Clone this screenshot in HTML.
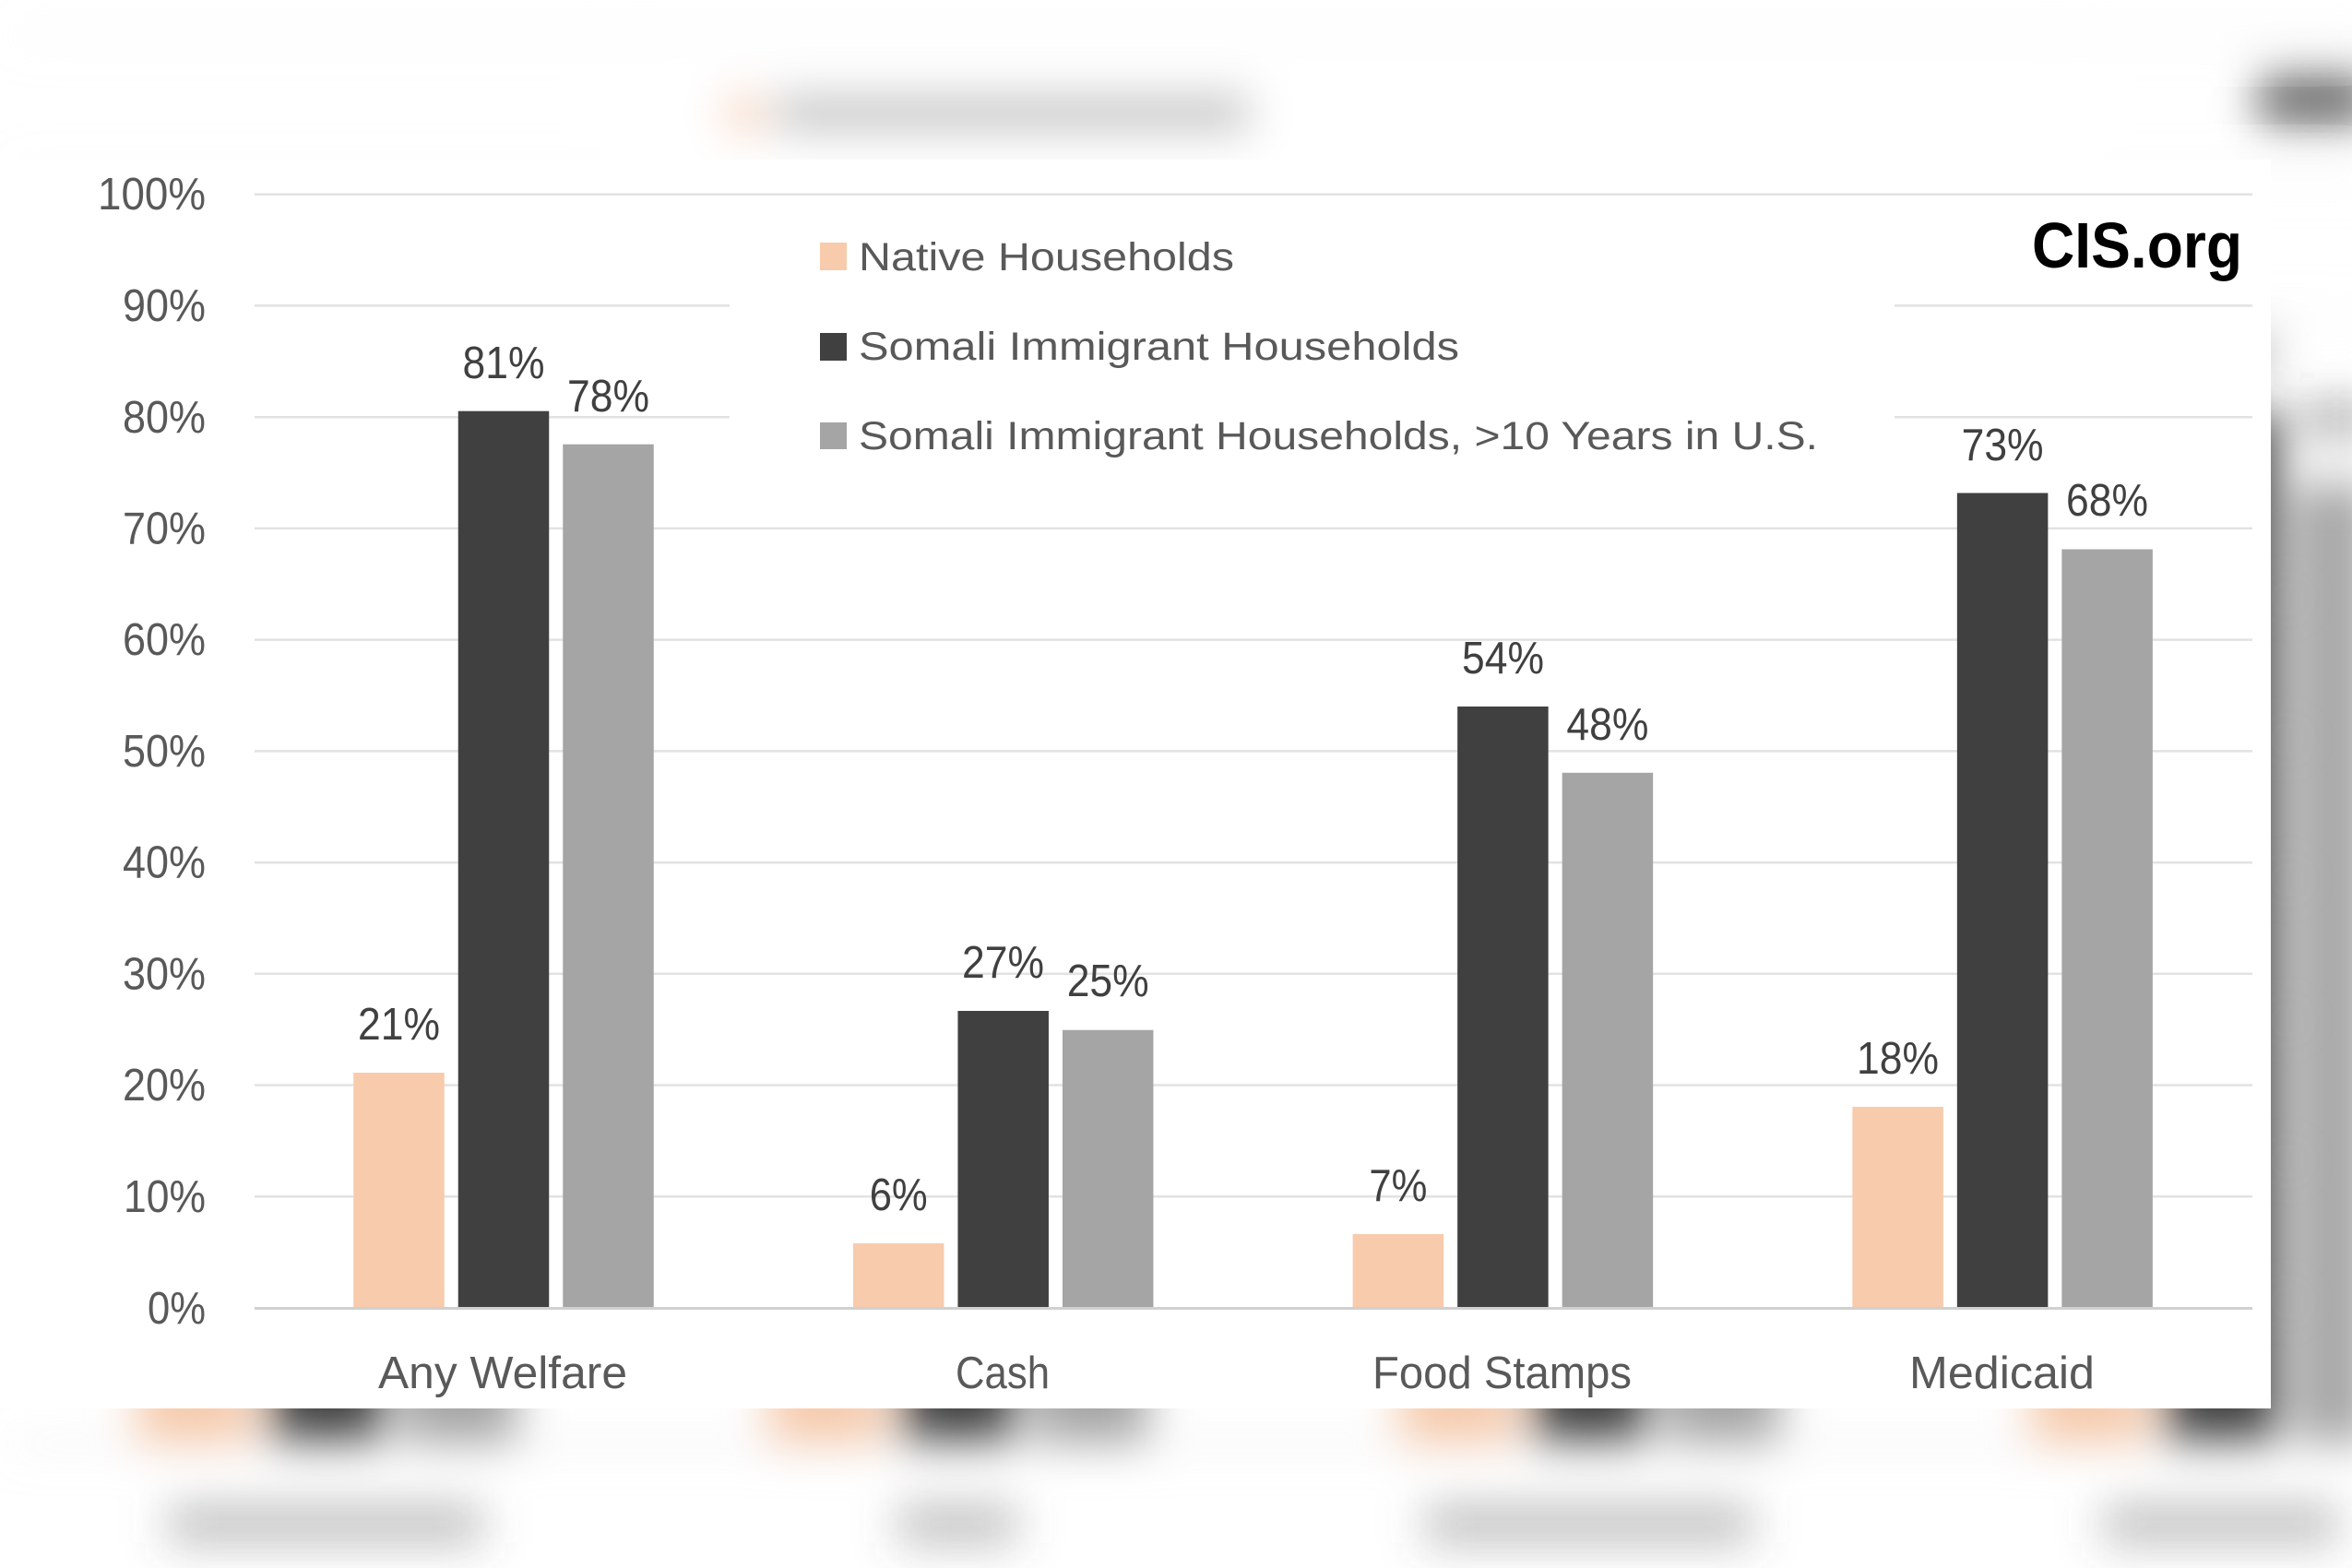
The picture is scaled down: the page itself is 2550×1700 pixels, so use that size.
<!DOCTYPE html>
<html>
<head>
<meta charset="utf-8">
<style>
  html,body{margin:0;padding:0;background:#fff;width:2550px;height:1700px;overflow:hidden;}
  svg{display:block;position:absolute;left:0;top:0;}
  .t{font-family:"Liberation Sans",Arial,sans-serif;}
</style>
</head>
<body>
<svg width="2550" height="1700" viewBox="0 0 2550 1700" xmlns="http://www.w3.org/2000/svg">
  <defs>
    <filter id="bl" x="-5%" y="-5%" width="110%" height="110%">
      <feGaussianBlur stdDeviation="19"/>
    </filter>
    <clipPath id="cp"><rect x="0" y="0" width="2550" height="1700"/></clipPath>
  </defs>
  <rect x="0" y="0" width="2550" height="1700" fill="#ffffff"/>

  <!-- Blurred, enlarged background copy -->
  <g clip-path="url(#cp)">
  <g transform="translate(-336,-228) scale(1.264)" filter="url(#bl)">
    <g stroke="#e2e2e2" stroke-width="2.5">
      <line x1="276" y1="210.7" x2="2300" y2="210.7"/>
      <line x1="276" y1="331.4" x2="2300" y2="331.4"/>
      <line x1="276" y1="452.2" x2="2300" y2="452.2"/>
      <line x1="276" y1="572.9" x2="2300" y2="572.9"/>
      <line x1="276" y1="693.6" x2="2300" y2="693.6"/>
      <line x1="276" y1="814.4" x2="2300" y2="814.4"/>
      <line x1="276" y1="935.1" x2="2300" y2="935.1"/>
      <line x1="276" y1="1055.8" x2="2300" y2="1055.8"/>
      <line x1="276" y1="1176.5" x2="2300" y2="1176.5"/>
      <line x1="276" y1="1297.3" x2="2300" y2="1297.3"/>
    </g>
    <rect x="791" y="230" width="1263" height="290" fill="#ffffff"/>
    <line x1="276" y1="1418.5" x2="2300" y2="1418.5" stroke="#d0d0d0" stroke-width="3"/>
    <!-- bars -->
    <rect x="383.25" y="1163" width="98.5" height="254" fill="#F7CBAC"/>
    <rect x="496.75" y="445.7" width="98.5" height="971.3" fill="#404040"/>
    <rect x="610.25" y="481.7" width="98.5" height="935.3" fill="#A5A5A5"/>
    <rect x="924.95" y="1348" width="98.5" height="69" fill="#F7CBAC"/>
    <rect x="1038.45" y="1096" width="98.5" height="321" fill="#404040"/>
    <rect x="1151.95" y="1116.7" width="98.5" height="300.3" fill="#A5A5A5"/>
    <rect x="1466.65" y="1338" width="98.5" height="79" fill="#F7CBAC"/>
    <rect x="1580.15" y="766" width="98.5" height="651" fill="#404040"/>
    <rect x="1693.65" y="837.8" width="98.5" height="579.2" fill="#A5A5A5"/>
    <rect x="2008.35" y="1200" width="98.5" height="217" fill="#F7CBAC"/>
    <rect x="2121.85" y="534.5" width="98.5" height="882.5" fill="#404040"/>
    <rect x="2235.35" y="595.5" width="64" height="821.5" fill="#A5A5A5"/>
    <!-- text blobs -->
    <g fill="#404040" opacity="0.4">
      <rect x="388" y="1092" width="89" height="35"/>
      <rect x="501.5" y="375" width="89" height="35"/>
      <rect x="615" y="411" width="89" height="35"/>
      <rect x="942.7" y="1277" width="63" height="35"/>
      <rect x="1043" y="1025" width="89" height="35"/>
      <rect x="1156.7" y="1045" width="89" height="35"/>
      <rect x="1484.4" y="1267" width="63" height="35"/>
      <rect x="1585" y="695" width="89" height="35"/>
      <rect x="1698.4" y="767" width="89" height="35"/>
      <rect x="2013" y="1129" width="89" height="35"/>
      <rect x="2126.6" y="464" width="89" height="35"/>
      <rect x="2240" y="524" width="60" height="35"/>
    </g>
    <g fill="#595959" opacity="0.38">
      <rect x="410" y="1470" width="270" height="35"/>
      <rect x="1036" y="1470" width="102" height="35"/>
      <rect x="1488" y="1470" width="281" height="35"/>
      <rect x="2070" y="1470" width="201" height="35"/>
      <rect x="931" y="262" width="407" height="31"/>
      <rect x="931" y="359" width="651" height="31"/>
      <rect x="931" y="456" width="1040" height="31"/>
    </g>
    <rect x="889" y="263" width="29" height="30" fill="#F7CBAC"/>
    <rect x="889" y="361" width="29" height="30" fill="#404040"/>
    <rect x="889" y="458" width="29" height="29" fill="#A5A5A5"/>
    <rect x="2203" y="240" width="97" height="50" fill="#000" opacity="0.55"/>
  </g>
  </g>

  <!-- Sharp foreground panel -->
  <rect x="0" y="173" width="2462" height="1354" fill="#ffffff"/>

  <!-- gridlines -->
  <g stroke="#e2e2e2" stroke-width="2.5">
    <line x1="276" y1="210.7" x2="2442" y2="210.7"/>
    <line x1="276" y1="331.4" x2="2442" y2="331.4"/>
    <line x1="276" y1="452.2" x2="2442" y2="452.2"/>
    <line x1="276" y1="572.9" x2="2442" y2="572.9"/>
    <line x1="276" y1="693.6" x2="2442" y2="693.6"/>
    <line x1="276" y1="814.4" x2="2442" y2="814.4"/>
    <line x1="276" y1="935.1" x2="2442" y2="935.1"/>
    <line x1="276" y1="1055.8" x2="2442" y2="1055.8"/>
    <line x1="276" y1="1176.5" x2="2442" y2="1176.5"/>
    <line x1="276" y1="1297.3" x2="2442" y2="1297.3"/>
  </g>
  <!-- legend background box -->
  <rect x="791" y="230" width="1263" height="290" fill="#ffffff"/>
  <!-- axis line -->
  <line x1="276" y1="1418.5" x2="2442" y2="1418.5" stroke="#d0d0d0" stroke-width="3"/>

  <!-- bars -->
  <rect x="383.25" y="1163" width="98.5" height="254" fill="#F7CBAC"/>
  <rect x="496.75" y="445.7" width="98.5" height="971.3" fill="#404040"/>
  <rect x="610.25" y="481.7" width="98.5" height="935.3" fill="#A5A5A5"/>
  <rect x="924.95" y="1348" width="98.5" height="69" fill="#F7CBAC"/>
  <rect x="1038.45" y="1096" width="98.5" height="321" fill="#404040"/>
  <rect x="1151.95" y="1116.7" width="98.5" height="300.3" fill="#A5A5A5"/>
  <rect x="1466.65" y="1338" width="98.5" height="79" fill="#F7CBAC"/>
  <rect x="1580.15" y="766" width="98.5" height="651" fill="#404040"/>
  <rect x="1693.65" y="837.8" width="98.5" height="579.2" fill="#A5A5A5"/>
  <rect x="2008.35" y="1200" width="98.5" height="217" fill="#F7CBAC"/>
  <rect x="2121.85" y="534.5" width="98.5" height="882.5" fill="#404040"/>
  <rect x="2235.35" y="595.5" width="98.5" height="821.5" fill="#A5A5A5"/>

  <!-- y tick labels -->
  <g class="t" font-size="49" fill="#595959">
    <text x="106" y="227" textLength="117" lengthAdjust="spacingAndGlyphs">100%</text>
    <text x="133" y="348" textLength="90" lengthAdjust="spacingAndGlyphs">90%</text>
    <text x="133" y="469" textLength="90" lengthAdjust="spacingAndGlyphs">80%</text>
    <text x="133" y="589.5" textLength="90" lengthAdjust="spacingAndGlyphs">70%</text>
    <text x="133" y="710" textLength="90" lengthAdjust="spacingAndGlyphs">60%</text>
    <text x="133" y="831" textLength="90" lengthAdjust="spacingAndGlyphs">50%</text>
    <text x="133" y="951.5" textLength="90" lengthAdjust="spacingAndGlyphs">40%</text>
    <text x="133" y="1072.5" textLength="90" lengthAdjust="spacingAndGlyphs">30%</text>
    <text x="133" y="1193" textLength="90" lengthAdjust="spacingAndGlyphs">20%</text>
    <text x="134" y="1314" textLength="89" lengthAdjust="spacingAndGlyphs">10%</text>
    <text x="160" y="1435" textLength="63" lengthAdjust="spacingAndGlyphs">0%</text>
  </g>

  <!-- data labels -->
  <g class="t" font-size="49" fill="#404040">
    <text x="388" y="1127" textLength="89" lengthAdjust="spacingAndGlyphs">21%</text>
    <text x="501.5" y="410" textLength="89" lengthAdjust="spacingAndGlyphs">81%</text>
    <text x="615" y="446" textLength="89" lengthAdjust="spacingAndGlyphs">78%</text>
    <text x="942.7" y="1312" textLength="63" lengthAdjust="spacingAndGlyphs">6%</text>
    <text x="1043" y="1060" textLength="89" lengthAdjust="spacingAndGlyphs">27%</text>
    <text x="1156.7" y="1080" textLength="89" lengthAdjust="spacingAndGlyphs">25%</text>
    <text x="1484.4" y="1302" textLength="63" lengthAdjust="spacingAndGlyphs">7%</text>
    <text x="1585" y="730" textLength="89" lengthAdjust="spacingAndGlyphs">54%</text>
    <text x="1698.4" y="802" textLength="89" lengthAdjust="spacingAndGlyphs">48%</text>
    <text x="2013" y="1164" textLength="89" lengthAdjust="spacingAndGlyphs">18%</text>
    <text x="2126.6" y="499" textLength="89" lengthAdjust="spacingAndGlyphs">73%</text>
    <text x="2240" y="559" textLength="89" lengthAdjust="spacingAndGlyphs">68%</text>
  </g>

  <!-- category labels -->
  <g class="t" font-size="49" fill="#595959">
    <text x="410" y="1505" textLength="270" lengthAdjust="spacingAndGlyphs">Any Welfare</text>
    <text x="1036" y="1505" textLength="102" lengthAdjust="spacingAndGlyphs">Cash</text>
    <text x="1488" y="1505" textLength="281" lengthAdjust="spacingAndGlyphs">Food Stamps</text>
    <text x="2070" y="1505" textLength="201" lengthAdjust="spacingAndGlyphs">Medicaid</text>
  </g>

  <!-- legend -->
  <rect x="889" y="263" width="29" height="30" fill="#F7CBAC"/>
  <rect x="889" y="361" width="29" height="30" fill="#404040"/>
  <rect x="889" y="458" width="29" height="29" fill="#A5A5A5"/>
  <g class="t" font-size="43" fill="#595959">
    <text x="931" y="293" textLength="407" lengthAdjust="spacingAndGlyphs">Native Households</text>
    <text x="931" y="390" textLength="651" lengthAdjust="spacingAndGlyphs">Somali Immigrant Households</text>
    <text x="931" y="487" textLength="1040" lengthAdjust="spacingAndGlyphs">Somali Immigrant Households, &gt;10 Years in U.S.</text>
  </g>

  <!-- watermark -->
  <text class="t" x="2203" y="290" font-size="70" font-weight="bold" fill="#000000" textLength="228" lengthAdjust="spacingAndGlyphs">CIS.org</text>
</svg>
</body>
</html>
